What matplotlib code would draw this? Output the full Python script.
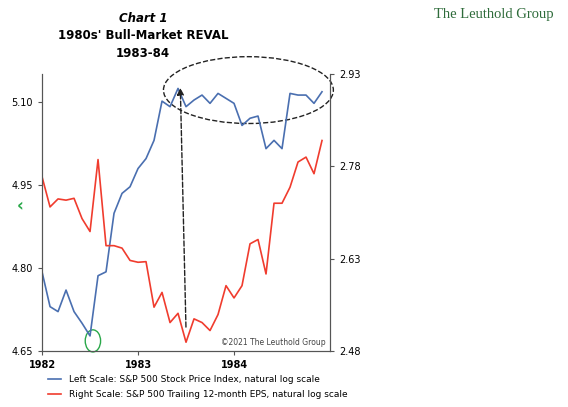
import matplotlib
matplotlib.use("Agg")
import matplotlib.pyplot as plt
from matplotlib.patches import Ellipse
import numpy as np

months = np.arange(36)
sp500_log = [4.793,4.730,4.721,4.760,4.721,4.700,4.677,4.786,4.793,4.899,4.935,4.947,
             4.980,4.998,5.031,5.102,5.092,5.125,5.092,5.104,5.113,5.098,5.116,5.107,
             5.098,5.058,5.071,5.075,5.016,5.031,5.016,5.116,5.113,5.113,5.098,5.119]
eps_log = [2.763,2.714,2.727,2.725,2.728,2.695,2.674,2.791,2.651,2.651,2.647,2.627,
           2.624,2.625,2.551,2.575,2.526,2.541,2.494,2.532,2.526,2.513,2.539,2.586,
           2.566,2.586,2.654,2.661,2.605,2.720,2.720,2.746,2.787,2.795,2.768,2.822]
left_ticks = [4.65, 4.80, 4.95, 5.10]
right_ticks = [2.48, 2.63, 2.78, 2.93]
year_ticks = [1982, 1983, 1984]

x = 1982 + months / 12.0
blue = "#4a6fb0"
red = "#f03c2e"

fig = plt.figure(figsize=(5.68, 4.07), dpi=100)
ax = fig.add_axes([0.074, 0.138, 0.507, 0.68])
ax2 = ax.twinx()
ax.plot(x, sp500_log, color=blue, lw=1.2)
ax2.plot(x, eps_log, color=red, lw=1.2)
ax.set_xlim(1982, 1985)
ax.set_ylim(4.65, 5.151)
ax2.set_ylim(2.48, 2.93)
ax.set_yticks(left_ticks)
ax.set_yticklabels([f"{v:.2f}" for v in left_ticks], fontsize=7)
ax2.set_yticks(right_ticks)
ax2.set_yticklabels([f"{v:.2f}" for v in right_ticks], fontsize=7)
ax.set_xticks(year_ticks)
ax.set_xticklabels([str(y) for y in year_ticks], fontsize=7, fontweight="bold")
for a in (ax, ax2):
    a.spines["top"].set_visible(False)
    for s in a.spines.values():
        s.set_color("#555555")
ax.tick_params(length=3, color="#555555")
ax2.tick_params(length=3, color="#555555")

ax.add_patch(Ellipse((1984.15, 5.122), 1.77, 0.121, fill=False, ls="--", lw=1, color="#222222", clip_on=False))
ax.annotate("", xy=(1983.44, 5.131), xytext=(1983.5, 4.688),
            arrowprops=dict(arrowstyle="-|>", ls="--", lw=1, color="#222222"))
ax.add_patch(Ellipse((1982.53, 4.668), 0.16, 0.04, fill=False, lw=1, color="#2aa84a", clip_on=False))
ax.text(0.985, 0.02, "©2021 The Leuthold Group", transform=ax.transAxes, ha="right", fontsize=5.5, color="#444444")

fig.text(0.252, 0.945, "Chart 1", ha="center", fontsize=8.5, fontstyle="italic", fontweight="bold")
fig.text(0.252, 0.903, "1980s' Bull-Market REVAL", ha="center", fontsize=8.5, fontweight="bold")
fig.text(0.252, 0.861, "1983-84", ha="center", fontsize=8.5, fontweight="bold")
fig.text(0.87, 0.965, "The Leuthold Group", ha="center", va="center", fontsize=10.5, family="Liberation Serif", color="#2e6b3a")
fig.text(0.03, 0.48, "‹", fontsize=12, color="#2aa84a", fontweight="bold")

fig.legend([ax.lines[0], ax2.lines[0]],
           ["Left Scale: S&P 500 Stock Price Index, natural log scale",
            "Right Scale: S&P 500 Trailing 12-month EPS, natural log scale"],
           loc="lower left", bbox_to_anchor=(0.07, 0.0), frameon=False, fontsize=6.5,
           handlelength=1.5, labelspacing=0.6)
fig.savefig("out.png", dpi=100)
